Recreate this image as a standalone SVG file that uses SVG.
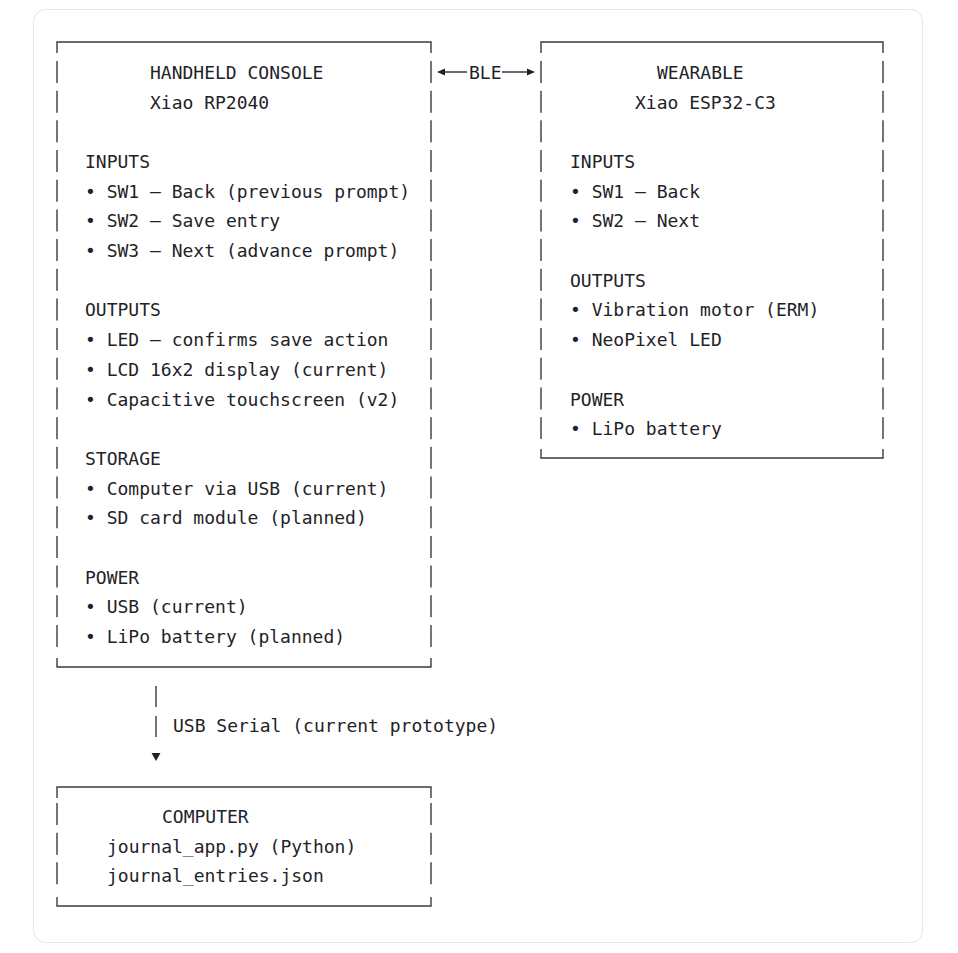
<svg xmlns="http://www.w3.org/2000/svg" width="958" height="953" viewBox="0 0 958 953">
<style>
  .t { font-family: "DejaVu Sans Mono", "Liberation Mono", monospace; font-size: 18px; fill: #1f2328; }
  .b { stroke: #3a3a3a; stroke-width: 1.4; fill: none; }
  .v { stroke: #3a3a3a; stroke-width: 1.4; fill: none; stroke-dasharray: 22 7.68; }
  .ah { fill: #1f2328; }
</style>
<rect x="0" y="0" width="958" height="953" fill="#ffffff"/>
<rect x="33.5" y="9.5" width="889" height="933" rx="12" fill="#ffffff" stroke="#e6e6e6" stroke-width="1"/>

<g id="handheld">
  <path class="b" d="M57 53 V42 H431 V53 M57 658 V667 H431 V658"/>
  <path class="v" d="M57 61 V647 M431 61 V647"/>
  <text class="t" x="150" y="79">HANDHELD CONSOLE</text>
  <text class="t" x="150" y="108.7">Xiao RP2040</text>
  <text class="t" x="85" y="168">INPUTS</text>
  <text class="t" x="85" y="197.7">• SW1 — Back (previous prompt)</text>
  <text class="t" x="85" y="227.4">• SW2 — Save entry</text>
  <text class="t" x="85" y="257.1">• SW3 — Next (advance prompt)</text>
  <text class="t" x="85" y="316.4">OUTPUTS</text>
  <text class="t" x="85" y="346.1">• LED — confirms save action</text>
  <text class="t" x="85" y="375.8">• LCD 16x2 display (current)</text>
  <text class="t" x="85" y="405.5">• Capacitive touchscreen (v2)</text>
  <text class="t" x="85" y="464.8">STORAGE</text>
  <text class="t" x="85" y="494.5">• Computer via USB (current)</text>
  <text class="t" x="85" y="524.2">• SD card module (planned)</text>
  <text class="t" x="85" y="583.6">POWER</text>
  <text class="t" x="85" y="613.2">• USB (current)</text>
  <text class="t" x="85" y="642.9">• LiPo battery (planned)</text>
</g>

<g id="wearable">
  <path class="b" d="M541 53 V42 H883 V53 M541 449 V458 H883 V449"/>
  <path class="v" d="M541 61 V439 M883 61 V439"/>
  <text class="t" x="657" y="79">WEARABLE</text>
  <text class="t" x="635" y="108.7">Xiao ESP32-C3</text>
  <text class="t" x="570" y="168">INPUTS</text>
  <text class="t" x="570" y="197.7">• SW1 — Back</text>
  <text class="t" x="570" y="227.4">• SW2 — Next</text>
  <text class="t" x="570" y="286.8">OUTPUTS</text>
  <text class="t" x="570" y="316.4">• Vibration motor (ERM)</text>
  <text class="t" x="570" y="346.1">• NeoPixel LED</text>
  <text class="t" x="570" y="405.5">POWER</text>
  <text class="t" x="570" y="435.2">• LiPo battery</text>
</g>

<g id="computer">
  <path class="b" d="M57 798 V787 H431 V798 M57 897 V906 H431 V897"/>
  <path class="v" d="M57 803 V885 M431 803 V885"/>
  <text class="t" x="162" y="823">COMPUTER</text>
  <text class="t" x="107" y="852.7">journal_app.py (Python)</text>
  <text class="t" x="107" y="882.4">journal_entries.json</text>
</g>

<g id="connectors">
  <g id="ble">
    <path class="b" d="M443 72 H467 M502 72 H529"/>
    <polygon class="ah" points="437,72 445,68.5 445,75.5"/>
    <polygon class="ah" points="535,72 527,68.5 527,75.5"/>
    <text class="t" x="469" y="79">BLE</text>
  </g>
  <g id="usb">
    <path class="b" d="M156 686 V707 M156 716 V737"/>
    <polygon class="ah" points="151.5,753 160.5,753 156,761"/>
    <text class="t" x="173" y="732">USB Serial (current prototype)</text>
  </g>
</g>
</svg>
